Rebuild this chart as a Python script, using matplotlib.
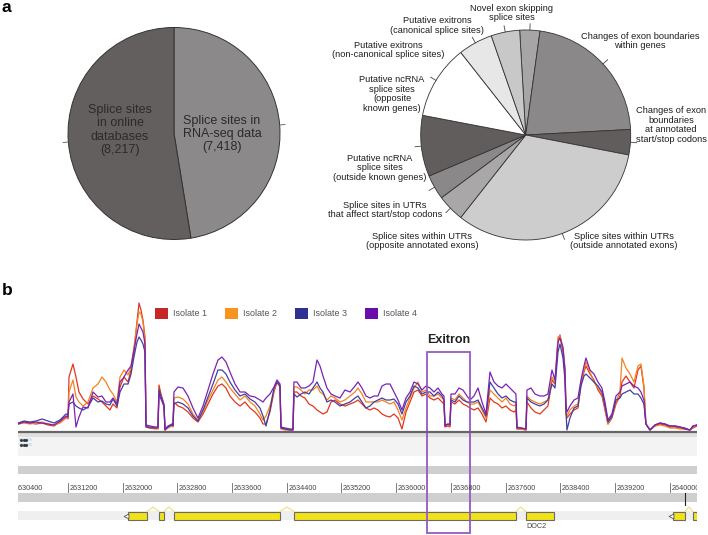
import numpy as np
import matplotlib.pyplot as plt
from matplotlib.patches import Patch, Rectangle

plt.rcParams['font.family'] = ['Liberation Sans', 'DejaVu Sans']

W, H = 708, 535

# ---- panel a, left pie ----
db_labels = ['Splice sites in\nRNA-seq data\n(7,418)', 'Splice sites\nin online\ndatabases\n(8,217)']
db_counts = [7418, 8217]
db_colors = ['#8b8989', '#625f5e']

# ---- panel a, right pie (share of novel splice sites, %) ----
event_labels = [
    'Novel exon skipping\nsplice sites',
    'Changes of exon boundaries\nwithin genes',
    'Changes of exon\nboundaries\nat annotated\nstart/stop codons',
    'Splice sites within UTRs\n(outside annotated exons)',
    'Splice sites within UTRs\n(opposite annotated exons)',
    'Splice sites in UTRs\nthat affect start/stop codons',
    'Putative ncRNA\nsplice sites\n(outside known genes)',
    'Putative ncRNA\nsplice sites\n(opposite\nknown genes)',
    'Putative exitrons\n(non-canonical splice sites)',
    'Putative exitrons\n(canonical splice sites)',
]
event_share = [3.1, 22.0, 3.9, 32.6, 4.2, 3.8, 9.4, 11.4, 5.3, 4.4]
event_colors = ['#a7a5a5', '#8a8888', '#615d5c', '#cdcdcd', '#a9a7a7',
                '#8a8888', '#615d5c', '#ffffff', '#e7e7e7', '#c8c8c8']

# ---- panel b, read coverage ----
isolates = ['Isolate 1', 'Isolate 2', 'Isolate 3', 'Isolate 4']
legend_colors = ['#c62828', '#f7931e', '#2e3192', '#6a0dad']
line_colors = ['#e2361e', '#f5821f', '#4040a2', '#7b22b4']

cov_pos = [
    2630470, 2630557, 2630645, 2630732, 2630820, 2630908, 2630995, 2631083, 2631171, 2631200,
    2631215, 2631273, 2631317, 2631361, 2631420, 2631493, 2631566, 2631639, 2631697, 2631756,
    2631814, 2631858, 2631917, 2631961, 2632019, 2632078, 2632122, 2632165, 2632209, 2632239,
    2632268, 2632297, 2632326, 2632341, 2632399, 2632473, 2632516, 2632531, 2632560, 2632604,
    2632619, 2632663, 2632721, 2632736, 2632750, 2632809, 2632882, 2632955, 2633028, 2633101,
    2633175, 2633248, 2633321, 2633394, 2633452, 2633511, 2633569, 2633643, 2633716, 2633789,
    2633862, 2633935, 2634008, 2634052, 2634096, 2634154, 2634213, 2634257, 2634301, 2634315,
    2634374, 2634447, 2634491, 2634505, 2634549, 2634608, 2634666, 2634725, 2634783, 2634842,
    2634886, 2634930, 2634988, 2635047, 2635105, 2635178, 2635251, 2635325, 2635398, 2635442,
    2635500, 2635558, 2635617, 2635676, 2635734, 2635793, 2635851, 2635910, 2635968, 2636027,
    2636085, 2636144, 2636202, 2636261, 2636319, 2636378, 2636436, 2636495, 2636553, 2636612,
    2636670, 2636699, 2636714, 2636758, 2636787, 2636802, 2636860, 2636919, 2636977, 2637036,
    2637080, 2637138, 2637197, 2637255, 2637314, 2637372, 2637431, 2637489, 2637548, 2637606,
    2637665, 2637723, 2637752, 2637767, 2637826, 2637899, 2637913, 2637972, 2638030, 2638103,
    2638162, 2638220, 2638279, 2638323, 2638367, 2638396, 2638440, 2638469, 2638484, 2638498,
    2638542, 2638601, 2638659, 2638703, 2638747, 2638776, 2638835, 2638893, 2638952, 2639010,
    2639054, 2639098, 2639156, 2639215, 2639273, 2639303, 2639361, 2639420, 2639478, 2639537,
    2639580, 2639624, 2639653, 2639712, 2639785, 2639858, 2639931, 2640004, 2640078, 2640151,
    2640224, 2640297, 2640341, 2640399,
]
cov_iso1 = [
    8, 10, 9, 8, 9, 7, 6, 10, 15, 13,
    55, 68, 55, 40, 33, 28, 36, 33, 30, 26,
    22, 28, 24, 45, 55, 50, 62, 80, 110, 129,
    122, 112, 95, 6, 5, 4, 4, 47, 38, 28,
    2, 5, 7, 6, 30, 26, 24, 20, 14, 10,
    18, 28, 38, 46, 48, 44, 36, 30, 26, 30,
    24, 20, 14, 8, 8, 20, 40, 50, 45, 4,
    3, 2, 2, 40, 40, 36, 34, 28, 26, 22,
    20, 18, 20, 30, 32, 28, 26, 28, 30, 32,
    28, 24, 22, 24, 22, 18, 16, 15, 18, 14,
    3, 20, 30, 40, 42, 36, 38, 34, 32, 34,
    30, 28, 5, 6, 5, 30, 28, 32, 28, 26,
    24, 22, 24, 18, 10, 34, 30, 28, 24, 26,
    22, 20, 22, 3, 3, 2, 30, 24, 20, 18,
    22, 26, 52, 48, 92, 97, 80, 60, 18, 14,
    18, 22, 24, 48, 60, 66, 58, 52, 42, 36,
    22, 8, 14, 28, 36, 50, 56, 50, 44, 62,
    66, 44, 8, 2, 6, 8, 7, 5, 5, 4,
    3, 2, 4, 6,
]
cov_iso2 = [
    8, 9, 8, 9, 10, 8, 7, 9, 14, 14,
    40, 52, 35, 30, 26, 30, 44, 48, 55, 50,
    42, 38, 30, 55, 62, 57, 65, 85, 108, 120,
    118, 110, 92, 5, 4, 3, 3, 40, 35, 25,
    2, 4, 6, 5, 34, 35, 33, 28, 18, 12,
    20, 32, 42, 52, 55, 50, 44, 38, 32, 36,
    30, 26, 18, 12, 16, 26, 42, 50, 46, 3,
    2, 2, 2, 45, 45, 42, 38, 42, 42, 46,
    40, 38, 32, 36, 34, 30, 32, 36, 40, 44,
    38, 30, 30, 30, 30, 32, 30, 28, 30, 22,
    12, 24, 34, 44, 50, 40, 42, 36, 36, 38,
    34, 32, 6, 7, 6, 34, 32, 38, 34, 30,
    28, 28, 30, 22, 14, 42, 38, 34, 30, 34,
    28, 26, 28, 3, 3, 2, 36, 32, 30, 28,
    30, 32, 55, 50, 95, 96, 85, 64, 22, 16,
    22, 26, 28, 50, 62, 70, 60, 50, 44, 38,
    24, 8, 16, 30, 40, 74, 64, 58, 50, 66,
    68, 46, 8, 2, 6, 7, 6, 4, 4, 3,
    3, 2, 5, 7,
]
cov_iso3 = [
    9, 11, 10, 11, 13, 11, 9, 12, 18, 17,
    28, 30, 26, 24, 22, 25, 34, 30, 31, 28,
    27, 33, 26, 40, 48, 48, 58, 75, 90, 95,
    92, 88, 80, 7, 6, 5, 5, 42, 36, 27,
    3, 6, 8, 7, 28, 30, 28, 24, 16, 11,
    22, 35, 48, 62, 62, 58, 50, 42, 36, 38,
    33, 30, 24, 16, 6, 22, 44, 50, 46, 5,
    4, 3, 3, 38, 35, 38, 40, 38, 44, 50,
    44, 40, 30, 32, 30, 26, 28, 30, 34, 36,
    30, 24, 26, 30, 32, 34, 32, 32, 33, 28,
    18, 30, 36, 46, 44, 38, 40, 40, 36, 40,
    36, 32, 7, 8, 7, 32, 30, 36, 32, 30,
    30, 30, 32, 24, 16, 50, 44, 38, 34, 36,
    32, 30, 30, 4, 4, 3, 34, 30, 28, 26,
    28, 32, 48, 44, 80, 88, 74, 52, 20, 2,
    14, 24, 26, 46, 56, 58, 54, 50, 46, 40,
    26, 10, 16, 32, 34, 38, 40, 42, 38, 38,
    34, 28, 8, 2, 7, 9, 8, 6, 6, 5,
    4, 2, 6, 7,
]
cov_iso4 = [
    8, 10, 9, 10, 9, 8, 7, 11, 16, 15,
    30, 38, 5, 15, 25, 24, 40, 35, 36, 30,
    30, 34, 28, 50, 55, 62, 66, 82, 98, 108,
    104, 100, 88, 5, 4, 4, 4, 38, 33, 26,
    2, 5, 7, 6, 40, 45, 44, 36, 24, 14,
    26, 42, 58, 72, 75, 70, 60, 48, 40, 40,
    36, 35, 32, 30, 34, 38, 45, 52, 48, 4,
    3, 2, 2, 50, 50, 44, 44, 46, 50, 72,
    66, 56, 44, 38, 36, 34, 42, 40, 46, 50,
    44, 36, 34, 36, 36, 46, 48, 48, 40, 32,
    22, 34, 40, 50, 48, 42, 46, 44, 40, 44,
    38, 36, 6, 8, 7, 38, 38, 44, 42, 36,
    32, 36, 44, 30, 18, 60, 50, 46, 44, 48,
    44, 40, 38, 5, 4, 3, 42, 44, 38, 36,
    36, 38, 62, 52, 90, 94, 84, 62, 26, 20,
    26, 32, 34, 52, 66, 74, 62, 58, 50, 44,
    30, 12, 18, 36, 40, 46, 48, 50, 46, 44,
    40, 32, 8, 2, 7, 9, 8, 6, 6, 5,
    3, 2, 6, 7,
]

# gene models (exon start, end) and region shown
exons = [(2632078, 2632356), (2632531, 2632604), (2632750, 2634301), (2634505, 2637752),
         (2637898, 2638308), (2640048, 2640224), (2640341, 2640520)]
gene_starts = [2632078, 2640048]
gene_name = 'DOC2'
view_start, view_end = 2630469, 2640400
tick_pos = np.arange(2630400, 2640801, 800)
exitron = (2636450, 2637079)


def box(x0, y0, x1, y1):
    return [x0 / W, 1 - y1 / H, (x1 - x0) / W, (y1 - y0) / H]


def fxy(x, y):
    return x / W, 1 - y / H


fig = plt.figure(figsize=(W / 100, H / 100), dpi=100)

# left pie
ax1 = fig.add_axes(box(68, 27.5, 280, 239.5))
wedges, _ = ax1.pie(db_counts, colors=db_colors, startangle=90, counterclock=False,
                    wedgeprops=dict(edgecolor='#333333', linewidth=0.7))
ax1.set_xlim(-1, 1)
ax1.set_ylim(-1, 1)
for w in wedges:
    a = np.deg2rad((w.theta1 + w.theta2) / 2)
    ax1.plot([np.cos(a), 1.05 * np.cos(a)], [np.sin(a), 1.05 * np.sin(a)],
             color='#555555', lw=0.6, clip_on=False)
for lab, (x, y) in zip(db_labels, [(222, 134), (120, 130)]):
    fig.text(*fxy(x, y), lab, ha='center', va='center', fontsize=9,
             color='#2b2b2b', linespacing=1.15)

# right pie
ax2 = fig.add_axes(box(420.7, 30, 630.7, 240))
wedges2, _ = ax2.pie(event_share, colors=event_colors, startangle=93.3, counterclock=False,
                     wedgeprops=dict(edgecolor='#333333', linewidth=0.6))
ax2.set_xlim(-1, 1)
ax2.set_ylim(-1, 1)
for w in wedges2:
    a = np.deg2rad((w.theta1 + w.theta2) / 2)
    ax2.plot([np.cos(a), 1.06 * np.cos(a)], [np.sin(a), 1.06 * np.sin(a)],
             color='#444444', lw=0.6, clip_on=False)
label_xy = [(512, 13), (640, 41), (671, 125), (624, 241), (422, 241),
            (385, 210), (380, 168), (392, 94), (388, 50), (437, 25.5)]
for lab, (x, y) in zip(event_labels, label_xy):
    fig.text(*fxy(x, y), lab, ha='center', va='center', fontsize=6.7, color='#1e1e1e',
             linespacing=1.12)

fig.text(*fxy(2, 11.5), 'a', fontsize=12.5, fontweight='bold', va='baseline')
fig.text(*fxy(2, 295), 'b', fontsize=12.5, fontweight='bold', va='baseline')

# panel b: coverage
ax_cov = fig.add_axes(box(18, 300, 697, 432))
ax_cov.set_xlim(view_start, view_end)
ax_cov.set_ylim(0, 132)
ax_cov.axis('off')
for vals, c in zip([cov_iso1, cov_iso2, cov_iso3, cov_iso4], line_colors):
    ax_cov.plot(cov_pos, vals, color=c, lw=0.9)
ax_cov.legend(handles=[Patch(fc=c, ec='none', label=l) for l, c in zip(isolates, legend_colors)],
              ncol=4, loc='upper left', bbox_to_anchor=fxy(155, 308),
              bbox_transform=fig.transFigure, frameon=False, fontsize=6.5,
              handlelength=1.45, handleheight=1.45, handletextpad=0.55,
              columnspacing=2.0, borderpad=0, borderaxespad=0, labelcolor='#555555')

# panel b: tracks (y in pixel rows)
ax_trk = fig.add_axes(box(18, 300, 697, 535), zorder=3)
ax_trk.set_xlim(view_start, view_end)
ax_trk.set_ylim(535, 300)
ax_trk.axis('off')
ax_trk.axhline(432, color='#666666', lw=1.6)
ax_trk.axhspan(433, 437, color='#e0e0e0', lw=0)
ax_trk.axhspan(437, 456, color='#f3f3f3', lw=0)
ax_trk.axhspan(466, 474, color='#cfcfcf', lw=0)
ax_trk.axhspan(493, 502, color='#cfcfcf', lw=0)
ax_trk.axhspan(511, 520, color='#efefef', lw=0)
for yy in (439.5, 444.5):
    ax_trk.add_patch(Rectangle((2630480, yy - 1.5), 190, 3, fc='#d6e4f4', lw=0))
    ax_trk.plot([2630510, 2630550, 2630590], [yy] * 3, 's', ms=1, color='#333333')

for t in tick_pos:
    ax_trk.plot([t, t], [483, 492], color='#666666', lw=0.6)
    ax_trk.text(t + 25, 488, str(t), fontsize=5.2, ha='left', va='center',
                color='#444444', clip_on=True)
ax_trk.plot([2640224, 2640224], [493, 505], color='#222222', lw=0.8)

for s, e in exons:
    ax_trk.add_patch(Rectangle((s, 511.5), e - s, 8.5, fc='#f2e318', ec='#6a6a6a', lw=0.8))
for (s0, e0), (s1, e1) in zip(exons[:-1], exons[1:]):
    if s1 - e0 < 1000:
        ax_trk.plot([e0, (e0 + s1) / 2, s1], [511.5, 507, 511.5], color='#eee07a', lw=0.8)
for g in gene_starts:
    ax_trk.plot(g - 25, 516, marker='<', ms=3.5, mfc='white', mec='#555555', mew=0.6)
ax_trk.text(2638045, 526.5, gene_name, fontsize=5.2, ha='center', va='center', color='#444444')

ax_trk.add_patch(Rectangle((exitron[0], 352), exitron[1] - exitron[0], 181, fill=False,
                           ec='#9558c8', lw=1.3, clip_on=False))
ax_trk.text(sum(exitron) / 2, 340, 'Exitron', fontsize=9, fontweight='bold',
            ha='center', va='center', color='#222222')

fig.savefig('out.png', dpi=100)
